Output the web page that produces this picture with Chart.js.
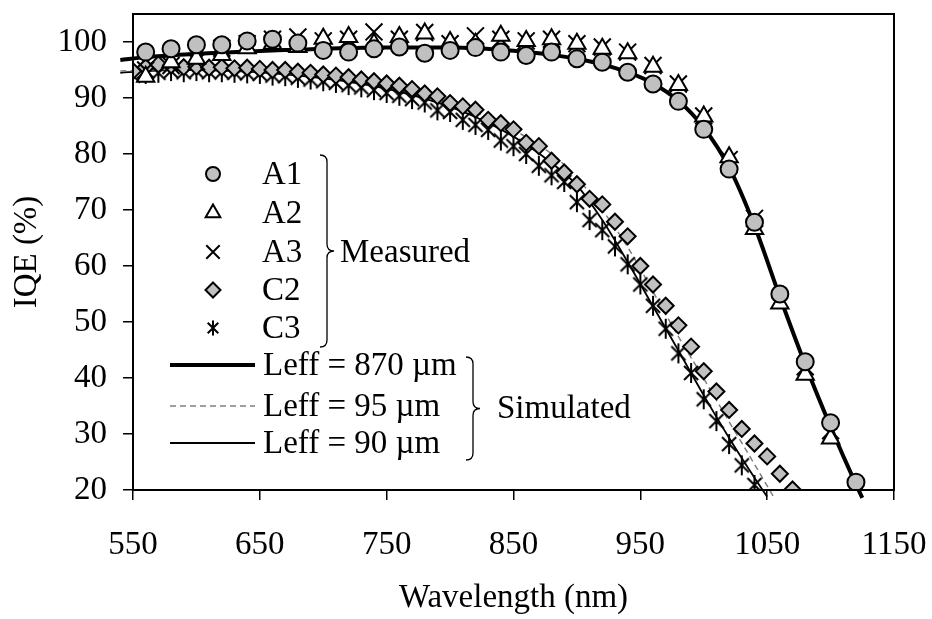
<!DOCTYPE html>
<html>
<head>
<meta charset="utf-8">
<script src="https://cdn.jsdelivr.net/npm/chart.js@4.4.1/dist/chart.umd.min.js"></script>
<style>
    body { margin: 0; background: #FFFFFF; }
    #wrap { width: 932px; height: 619px; position: relative; }
</style>
</head>
<body>
<div id="wrap"><canvas id="iqeChart"></canvas></div>
<script>

// measured wavelengths (nm)
const aWave = [560, 580, 600, 620, 640, 660, 680, 700, 720, 740, 760, 780, 800, 820, 840, 860, 880, 900, 920, 940, 960, 980, 1000, 1020, 1040, 1060, 1080, 1100, 1120];
const a1 = [98.2, 98.8, 99.5, 99.5, 100.2, 100.5, 99.8, 98.5, 98.2, 98.8, 99.1, 98.0, 98.5, 99.0, 98.2, 97.6, 98.2, 97.0, 96.4, 94.6, 92.5, 89.4, 84.4, 77.3, 67.8, 55.0, 42.9, 32.0, 21.4];
const a2 = [93.8, 96.4, 97.0, 97.7, 98.9, 99.7, 99.1, 100.6, 100.9, 99.7, 100.9, 101.5, 100.0, 99.7, 101.1, 100.2, 100.5, 99.7, 98.8, 98.0, 95.6, 92.3, 86.7, 79.4, 66.6, 53.3, 40.6, 29.2, null];
const a3 = [95.0, 95.8, 96.5, 98.9, 99.7, 100.5, 100.9, 100.2, 100.5, 101.8, 100.5, 101.7, 99.7, 101.1, 100.5, 100.2, 100.5, 99.7, 99.1, 98.2, 95.8, 92.5, 86.8, 79.0, 68.5, 54.0, 42.0, 30.6, 20.5];

const c2Wave = [550, 560, 570, 580, 590, 600, 610, 620, 630, 640, 650, 660, 670, 680, 690, 700, 710, 720, 730, 740, 750, 760, 770, 780, 790, 800, 810, 820, 830, 840, 850, 860, 870, 880, 890, 900, 910, 920, 930, 940, 950, 960, 970, 980, 990, 1000, 1010, 1020, 1030, 1040, 1050, 1060, 1070];
const c2 = [94.8, 95.5, 96.0, 95.8, 95.5, 95.6, 95.4, 95.5, 95.3, 95.4, 95.2, 95.0, 95.0, 94.7, 94.5, 94.2, 94.0, 93.7, 93.3, 93.0, 92.6, 92.2, 91.6, 90.8, 90.3, 89.1, 88.5, 87.9, 86.1, 85.5, 84.4, 82.0, 81.4, 78.8, 76.7, 74.6, 72.0, 71.0, 67.9, 65.3, 60.0, 56.7, 52.9, 49.4, 45.6, 41.2, 37.6, 34.3, 30.9, 28.3, 26.0, 22.9, 20.1];

const c3Wave = [550, 560, 570, 580, 590, 600, 610, 620, 630, 640, 650, 660, 670, 680, 690, 700, 710, 720, 730, 740, 750, 760, 770, 780, 790, 800, 810, 820, 830, 840, 850, 860, 870, 880, 890, 900, 910, 920, 930, 940, 950, 960, 970, 980, 990, 1000, 1010, 1020, 1030, 1040];
const c3 = [94.0, 94.3, 94.5, 94.8, 94.6, 94.8, 94.6, 94.6, 94.5, 94.4, 94.3, 94.0, 93.9, 93.6, 93.3, 93.0, 92.7, 92.3, 91.9, 91.4, 90.9, 90.4, 89.8, 89.2, 87.8, 87.5, 86.1, 85.2, 84.3, 82.4, 81.4, 80.0, 77.9, 76.2, 75.0, 71.4, 68.2, 66.4, 63.5, 60.3, 56.7, 52.9, 48.8, 44.4, 40.9, 36.2, 32.3, 28.2, 24.4, 20.9];

// simulated curves
const w870 = [540, 560, 580, 600, 620, 640, 660, 680, 700, 720, 740, 760, 780, 800, 820, 840, 860, 880, 900, 920, 940, 960, 980, 1000, 1020, 1040, 1060, 1080, 1100, 1120, 1125];
const l870 = [96.8, 97.3, 97.6, 97.9, 98.1, 98.3, 98.5, 98.6, 98.8, 98.9, 99.0, 99.0, 99.0, 99.0, 98.9, 98.6, 98.2, 97.7, 97.0, 96.0, 94.6, 92.6, 89.5, 84.7, 77.6, 67.2, 54.5, 42.4, 31.3, 21.0, 18.6];

const w95 = [540, 560, 580, 600, 620, 640, 660, 680, 700, 720, 740, 760, 780, 800, 820, 840, 860, 880, 900, 920, 940, 960, 980, 1000, 1020, 1040, 1055];
const l95 = [94.8, 95.0, 95.1, 95.1, 95.0, 94.8, 94.6, 94.2, 93.8, 93.2, 92.5, 91.6, 90.5, 89.2, 87.5, 85.5, 83.0, 80.0, 75.8, 70.0, 63.4, 55.4, 47.4, 39.9, 32.2, 24.6, 18.8];

const w90 = [540, 560, 580, 600, 620, 640, 660, 680, 700, 720, 740, 760, 780, 800, 820, 840, 860, 880, 900, 920, 940, 960, 980, 1000, 1020, 1040, 1050];
const l90 = [94.5, 94.8, 95.0, 95.0, 94.9, 94.7, 94.4, 94.0, 93.5, 92.9, 92.1, 91.1, 89.9, 88.4, 86.6, 84.4, 81.7, 78.4, 74.4, 68.2, 60.7, 52.8, 44.9, 36.9, 29.3, 22.2, 18.8];

const xTicks = [550, 650, 750, 850, 950, 1050, 1150];
const yTicks = [20, 30, 40, 50, 60, 70, 80, 90, 100];

const measuredNames = ["A1", "A2", "A3", "C2", "C3"];
const simulatedNames = ["Leff = 870 \u00b5m", "Leff = 95 \u00b5m", "Leff = 90 \u00b5m"];

const FONT = "'Liberation Serif', 'Times New Roman', serif";
const GREY = "#C0C0C0";

function pts(xs, ys) {
    return xs.map((x, i) => ({ x: x, y: ys[i] }));
}

// asterisk marker: X plus vertical bar
function makeStar(r) {
    const c = document.createElement("canvas");
    const s = Math.ceil(2 * r + 4);
    c.width = s;
    c.height = s;
    const g = c.getContext("2d");
    const m = s / 2;
    const d = r * Math.SQRT1_2;
    g.strokeStyle = "#000000";
    g.lineWidth = 2;
    g.beginPath();
    g.moveTo(m, m - r); g.lineTo(m, m + r);
    g.moveTo(m - d, m - d); g.lineTo(m + d, m + d);
    g.moveTo(m - d, m + d); g.lineTo(m + d, m - d);
    g.stroke();
    return c;
}

const starMarker = makeStar(10);

function drawMarker(ctx, kind, x, y, r) {
    ctx.save();
    ctx.lineWidth = 2;
    ctx.strokeStyle = "#000000";
    ctx.beginPath();
    if (kind === "circle") {
        ctx.arc(x, y, r, 0, Math.PI * 2);
        ctx.fillStyle = GREY;
        ctx.fill();
        ctx.stroke();
    } else if (kind === "triangle") {
        ctx.moveTo(x, y - r);
        ctx.lineTo(x + r * 0.866, y + r * 0.5);
        ctx.lineTo(x - r * 0.866, y + r * 0.5);
        ctx.closePath();
        ctx.fillStyle = "#FFFFFF";
        ctx.fill();
        ctx.stroke();
    } else if (kind === "cross") {
        const d = r * Math.SQRT1_2;
        ctx.moveTo(x - d, y - d); ctx.lineTo(x + d, y + d);
        ctx.moveTo(x - d, y + d); ctx.lineTo(x + d, y - d);
        ctx.stroke();
    } else if (kind === "diamond") {
        ctx.moveTo(x, y - r); ctx.lineTo(x + r, y);
        ctx.lineTo(x, y + r); ctx.lineTo(x - r, y);
        ctx.closePath();
        ctx.fillStyle = GREY;
        ctx.fill();
        ctx.stroke();
    } else if (kind === "star") {
        const d = r * Math.SQRT1_2;
        ctx.moveTo(x, y - r); ctx.lineTo(x, y + r);
        ctx.moveTo(x - d, y - d); ctx.lineTo(x + d, y + d);
        ctx.moveTo(x - d, y + d); ctx.lineTo(x + d, y - d);
        ctx.stroke();
    }
    ctx.restore();
}

function drawBrace(ctx, x, y1, y2, w) {
    const ym = (y1 + y2) / 2;
    const h = w / 2;
    ctx.beginPath();
    ctx.moveTo(x, y1);
    ctx.quadraticCurveTo(x + h, y1, x + h, y1 + h);
    ctx.lineTo(x + h, ym - h);
    ctx.quadraticCurveTo(x + h, ym, x + w, ym);
    ctx.quadraticCurveTo(x + h, ym, x + h, ym + h);
    ctx.lineTo(x + h, y2 - h);
    ctx.quadraticCurveTo(x + h, y2, x, y2);
    ctx.stroke();
}

const boxAndLegend = {
    id: "boxAndLegend",
    afterDraw(chart) {
        const ctx = chart.ctx;
        const a = chart.chartArea;

        ctx.save();
        ctx.strokeStyle = "#000000";
        ctx.lineWidth = 2;
        ctx.strokeRect(a.left, a.top, a.right - a.left, a.bottom - a.top);

        // measured markers
        const kinds = ["circle", "triangle", "cross", "diamond", "star"];
        const sizes = [7, 8.5, 9.5, 7.5, 7.5];
        const rowsY = [174, 213, 252, 290, 328];
        ctx.font = "33px " + FONT;
        ctx.fillStyle = "#000000";
        ctx.textBaseline = "middle";
        ctx.textAlign = "left";
        measuredNames.forEach((name, i) => {
            drawMarker(ctx, kinds[i], 213, rowsY[i], sizes[i]);
            ctx.fillStyle = "#000000";
            ctx.fillText(name, 262, rowsY[i] + 1);
        });

        ctx.lineWidth = 1.3;
        ctx.strokeStyle = "#000000";
        drawBrace(ctx, 320, 155, 347, 14);
        ctx.fillText("Measured", 340, 253);

        // simulated lines
        const lineY = [365, 406, 443];
        ctx.lineCap = "butt";

        ctx.beginPath();
        ctx.lineWidth = 4;
        ctx.strokeStyle = "#000000";
        ctx.moveTo(170, lineY[0]); ctx.lineTo(255, lineY[0]);
        ctx.stroke();

        ctx.beginPath();
        ctx.lineWidth = 1.5;
        ctx.strokeStyle = "#808080";
        ctx.setLineDash([6, 4]);
        ctx.moveTo(170, lineY[1]); ctx.lineTo(255, lineY[1]);
        ctx.stroke();
        ctx.setLineDash([]);

        ctx.beginPath();
        ctx.lineWidth = 2;
        ctx.strokeStyle = "#000000";
        ctx.moveTo(170, lineY[2]); ctx.lineTo(255, lineY[2]);
        ctx.stroke();

        simulatedNames.forEach((name, i) => {
            ctx.fillText(name, 263, lineY[i] + 1);
        });

        ctx.lineWidth = 1.3;
        drawBrace(ctx, 466, 357, 460, 14);
        ctx.fillText("Simulated", 497, 409);

        ctx.restore();
    }
};

const ctx = document.getElementById("iqeChart").getContext("2d");

new Chart(ctx, {

    type: "scatter",

    data: {

        datasets: [
            {
                label: "A1",
                data: pts(aWave, a1),
                pointStyle: "circle",
                pointRadius: 8.5,
                backgroundColor: GREY,
                borderColor: "#000000",
                borderWidth: 2
            },
            {
                label: "A2",
                data: pts(aWave, a2),
                pointStyle: "triangle",
                pointRadius: 10,
                backgroundColor: "#FFFFFF",
                borderColor: "#000000",
                borderWidth: 2
            },
            {
                label: "A3",
                data: pts(aWave, a3),
                pointStyle: "crossRot",
                pointRadius: 12,
                borderColor: "#000000",
                borderWidth: 2
            },
            {
                label: "C2",
                data: pts(c2Wave, c2),
                pointStyle: "rectRot",
                pointRadius: 8,
                backgroundColor: GREY,
                borderColor: "#000000",
                borderWidth: 2
            },
            {
                label: "C3",
                data: pts(c3Wave, c3),
                pointStyle: starMarker,
                pointRadius: 10,
                borderColor: "#000000"
            },
            {
                label: simulatedNames[0],
                data: pts(w870, l870),
                showLine: true,
                pointRadius: 0,
                borderColor: "#000000",
                borderWidth: 4,
                cubicInterpolationMode: "monotone",
                clip: false
            },
            {
                label: simulatedNames[1],
                data: pts(w95, l95),
                showLine: true,
                pointRadius: 0,
                borderColor: "#808080",
                borderWidth: 1.5,
                borderDash: [6, 4],
                cubicInterpolationMode: "monotone",
                clip: false
            },
            {
                label: simulatedNames[2],
                data: pts(w90, l90),
                showLine: true,
                pointRadius: 0,
                borderColor: "#000000",
                borderWidth: 1.8,
                cubicInterpolationMode: "monotone",
                clip: false
            }
        ]

    },

    options: {

        responsive: true,

        maintainAspectRatio: false,

        animation: false,

        events: [],

        layout: {
            padding: { top: 5, right: 38, bottom: 0, left: 0 }
        },

        plugins: {
            legend: { display: false },
            tooltip: { enabled: false }
        },

        scales: {

            x: {
                type: "linear",
                min: 550,
                max: 1150,
                afterBuildTicks: (s) => {
                    s.ticks = xTicks.map(v => ({ value: v }));
                },
                afterFit: (s) => {
                    s.height = 129;
                    s.paddingLeft = 0;
                    s.paddingRight = 0;
                },
                border: { display: false },
                grid: {
                    drawOnChartArea: false,
                    drawTicks: true,
                    tickLength: 10,
                    color: "#000000",
                    lineWidth: 1.5
                },
                ticks: {
                    color: "#000000",
                    padding: 26,
                    maxRotation: 0,
                    callback: (v) => String(v),
                    font: { family: FONT, size: 33 }
                },
                title: {
                    display: true,
                    text: "Wavelength (nm)",
                    color: "#000000",
                    padding: { top: 0, bottom: 1 },
                    font: { family: FONT, size: 33 }
                }
            },

            y: {
                type: "linear",
                min: 20,
                max: 105,
                afterBuildTicks: (s) => {
                    s.ticks = yTicks.map(v => ({ value: v }));
                },
                afterFit: (s) => {
                    s.width = 133;
                    s.paddingTop = 0;
                    s.paddingBottom = 0;
                },
                border: { display: false },
                grid: {
                    drawOnChartArea: false,
                    drawTicks: true,
                    tickLength: 10,
                    color: "#000000",
                    lineWidth: 1.5
                },
                ticks: {
                    color: "#000000",
                    padding: 16,
                    callback: (v) => String(v),
                    font: { family: FONT, size: 33 }
                },
                title: {
                    display: true,
                    text: "IQE (%)",
                    color: "#000000",
                    padding: { top: 8, bottom: 0 },
                    font: { family: FONT, size: 33 }
                }
            }

        }

    },

    plugins: [boxAndLegend]

});

</script>
</body>
</html>
